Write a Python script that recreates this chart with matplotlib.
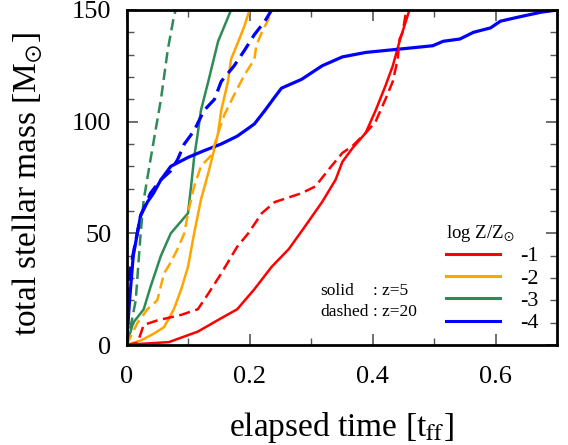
import matplotlib
matplotlib.use("Agg")
import matplotlib.pyplot as plt
from matplotlib.lines import Line2D
from matplotlib.ticker import MultipleLocator

plt.rcParams['font.family'] = ['Liberation Serif', 'DejaVu Serif']
plt.rcParams['mathtext.fontset'] = 'stix'

# log Z/Zsun = -1 (red)
t_m1_z5 = [0, 0.023, 0.069, 0.116, 0.154, 0.18, 0.208, 0.236, 0.264, 0.29, 0.318, 0.34, 0.351, 0.367, 0.389, 0.405, 0.421, 0.433, 0.444, 0.46]
m_m1_z5 = [0, 0.5, 1.3, 6, 12, 16, 25, 35, 43, 53, 64, 74, 82, 88, 95, 105, 116, 125, 136, 150]
t_m1_z20 = [0, 0.018, 0.023, 0.028, 0.05, 0.089, 0.116, 0.133, 0.154, 0.18, 0.198, 0.22, 0.241, 0.285, 0.307, 0.33, 0.351, 0.367, 0.389, 0.405, 0.421, 0.433, 0.441, 0.444, 0.449, 0.455]
m_m1_z20 = [0, 1, 5, 9, 11, 13.5, 16, 23, 32, 44, 50, 59, 64, 68, 71, 79, 86, 89, 95, 100, 110, 118, 128, 137, 140, 150]

# -2 (orange)
t_m2_z5 = [0, 0.023, 0.044, 0.061, 0.077, 0.089, 0.1, 0.11, 0.121, 0.133, 0.143, 0.149, 0.154, 0.165, 0.17, 0.182, 0.192, 0.2]
m_m2_z5 = [0, 2, 5, 8, 16, 25, 35, 50, 65, 77, 88, 95, 105, 118, 128, 136, 143, 150]
t_m2_z20 = [0, 0.018, 0.034, 0.05, 0.061, 0.072, 0.083, 0.094, 0.1, 0.11, 0.121, 0.138, 0.149, 0.159, 0.175, 0.192, 0.208, 0.211, 0.22, 0.231, 0.236]
m_m2_z20 = [0, 10, 16, 20, 32, 37, 43, 50, 59, 71, 80, 85, 95, 103, 112, 121, 128, 134, 140, 146, 150]

# -3 (green)
t_m3_z5 = [0, 0.011, 0.028, 0.039, 0.056, 0.072, 0.1, 0.105, 0.11, 0.116, 0.121, 0.133, 0.149, 0.17]
m_m3_z5 = [0, 10, 16, 26, 40, 50, 59, 71, 84, 95, 105, 118, 136, 150]
t_m3_z20 = [0, 0.008, 0.015, 0.023, 0.028, 0.039, 0.056, 0.067, 0.077, 0.08]
m_m3_z20 = [0, 10, 20, 50, 65, 83, 110, 132, 147, 150]

# -4 (blue)
t_m4_z5 = [0, 0.005, 0.011, 0.023, 0.034, 0.044, 0.056, 0.072, 0.1, 0.126, 0.154, 0.18, 0.198, 0.208, 0.225, 0.241, 0.252, 0.285, 0.318, 0.351, 0.389, 0.444, 0.498, 0.515, 0.542, 0.564, 0.592, 0.608, 0.64, 0.674, 0.7]
m_m4_z5 = [0, 20, 40, 58, 64, 68, 74, 80, 84, 87, 90, 93.5, 97, 99, 105, 111, 115, 119, 125, 129, 131, 132.5, 134, 136, 137, 140, 142, 145, 147, 149, 150]
t_m4_z20 = [0, 0.005, 0.011, 0.023, 0.039, 0.056, 0.072, 0.083, 0.094, 0.11, 0.126, 0.143, 0.154, 0.175, 0.192, 0.208, 0.225, 0.236]
m_m4_z20 = [0, 32, 41, 58, 68, 74, 78, 83, 90, 96, 105, 110, 118, 125, 132, 139, 145, 150]

colors = ['#ff0000', '#ffa500', '#2e8b57', '#0000ff']
widths = [1.8, 1.8, 1.8, 2.3]
labels = ['-1', '-2', '-3', '-4']
solid_t = [t_m1_z5, t_m2_z5, t_m3_z5, t_m4_z5]
solid_m = [m_m1_z5, m_m2_z5, m_m3_z5, m_m4_z5]
dash_t = [t_m1_z20, t_m2_z20, t_m3_z20, t_m4_z20]
dash_m = [m_m1_z20, m_m2_z20, m_m3_z20, m_m4_z20]

fig = plt.figure(figsize=(5.68, 4.45), dpi=100)
ax = fig.add_axes([126.5/568, 1-345/445, (557-126.5)/568, (345-10)/445])

for c, w, tt, mm in zip(colors, widths, solid_t, solid_m):
    ax.plot(tt, mm, color=c, lw=w)
for c, w, tt, mm in zip(colors, widths, dash_t, dash_m):
    ax.plot(tt, mm, color=c, lw=w, ls=(0, (4.5, 2.2)))

ax.set_xlim(0, 0.7)
ax.set_ylim(0, 150)
ax.xaxis.set_minor_locator(MultipleLocator(0.1))
ax.yaxis.set_major_locator(MultipleLocator(50))
ax.yaxis.set_minor_locator(MultipleLocator(10))
ax.set_xticks([0, 0.2, 0.4, 0.6])
ax.set_xticklabels(['0', '0.2', '0.4', '0.6'])
ax.tick_params(which='both', direction='in', top=True, right=True, labelsize=19, color='#555555')
ax.tick_params(which='major', length=8, width=1.2)
ax.tick_params(which='minor', length=5, width=1.0)
ax.tick_params(axis='x', which='major', pad=15)
ax.tick_params(axis='y', which='major', pad=11)
for s in ax.spines.values():
    s.set_linewidth(2)

ax.set_xlabel(r'elapsed time [t$_{\rm ff}$]', fontsize=24)
ax.set_ylabel(r'total stellar mass [M$_{\odot}$]', fontsize=24)
ax.xaxis.set_label_coords(0.5, -0.195)
ax.yaxis.set_label_coords(-0.19, 0.48)

handles = [Line2D([], [], color=c, lw=2.2) for c in colors]
leg = ax.legend(handles, labels, loc='lower right', bbox_to_anchor=(0.994, -0.012),
                frameon=False, title=r'log Z/Z$_{\odot}$', fontsize=16,
                title_fontsize=13.5, handlelength=2.45, handletextpad=0.9,
                labelspacing=0.08, borderaxespad=0.3)
leg._legend_box.align = 'left'

ax.text(0.451, 0.162, 'solid', transform=ax.transAxes, fontsize=12.5, va='center')
ax.text(0.451, 0.099, 'dashed', transform=ax.transAxes, fontsize=12.5, va='center')
ax.text(0.573, 0.162, ': z=5', transform=ax.transAxes, fontsize=12.5, va='center')
ax.text(0.573, 0.099, ': z=20', transform=ax.transAxes, fontsize=12.5, va='center')

fig.savefig('out.png', dpi=100)
